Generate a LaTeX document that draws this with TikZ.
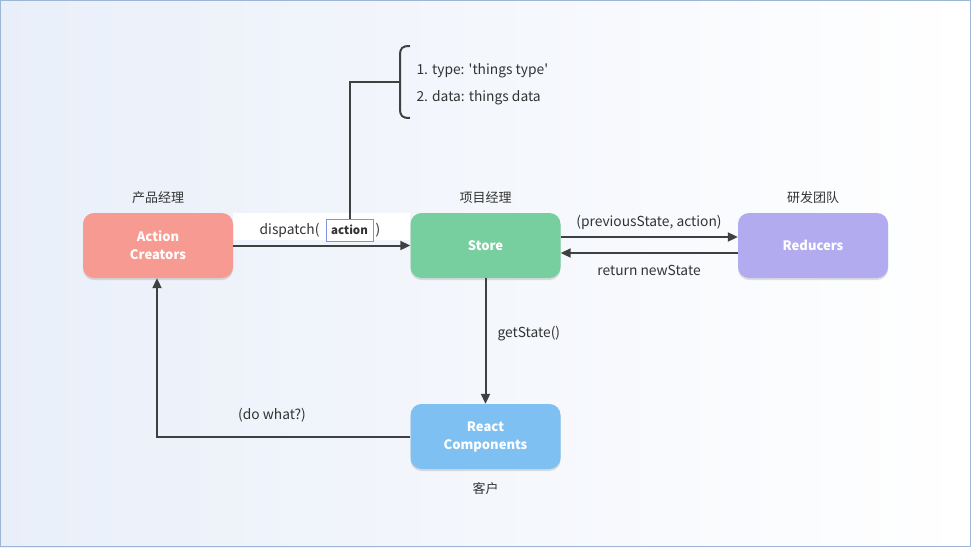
\documentclass[tikz,border=0pt]{standalone}
\usepackage{fontspec}
\setmainfont{Noto Sans CJK SC}
\newfontfamily\plainf{Noto Sans CJK SC}
\usetikzlibrary{arrows.meta,shadows}
\definecolor{linec}{HTML}{404040}
\definecolor{txtc}{HTML}{333333}
\definecolor{acol}{HTML}{F79A92}
\definecolor{scol}{HTML}{77CFA0}
\definecolor{rcol}{HTML}{B3ABF0}
\definecolor{ccol}{HTML}{7FC0F3}
\definecolor{bgl}{HTML}{E9EFF9}
\definecolor{frame}{HTML}{9DB6D6}
\begin{document}
\begin{tikzpicture}[x=1pt,y=-1pt,
  box/.style={draw=none,rounded corners=11pt,minimum width=150pt,minimum height=65pt,
    text=white,font=\fontsize{13}{18}\selectfont\bfseries,align=center,
    drop shadow={shadow xshift=0pt,shadow yshift=-2pt,opacity=0.25,fill=gray}},
  role/.style={text=txtc,font=\fontsize{13}{14}\selectfont},
  lbl/.style={text=txtc,font=\fontsize{13.8}{15}\selectfont},
  conn/.style={draw=linec,line width=2pt,-{Triangle[length=10pt,width=9pt]}},
  plain/.style={draw=linec,line width=2pt}]
\useasboundingbox (0,0) rectangle (971,547);
\shade[left color=bgl,right color=white] (0,0) rectangle (971,547);
\draw[frame,line width=1pt] (0.5,0.5) rectangle (970.5,546.5);
% white strip behind dispatch label
\fill[white] (233,213) rectangle (410,240);
% boxes
\node[box,fill=acol] (ac) at (158,245.5) {Action\\Creators};
\node[box,fill=scol] (st) at (485.5,245.5) {Store};
\node[box,fill=rcol] (rd) at (813,245.5) {Reducers};
\node[box,fill=ccol] (rc) at (485.5,436.5) {React\\Components};
% role labels
\node[role] (r1) at (158,198) {产品经理};
\node[role] (r2) at (485.5,198) {项目经理};
\node[role] (r3) at (813,198) {研发团队};
\node[role] (r4) at (485.5,489) {客户};
% dispatch
\draw[conn] (ac.east) -- (st.west);
\node[lbl,anchor=east] (dl) at (323,230) {dispatch(};
\node[draw=frame!80!blue,line width=1pt,fill=white,minimum width=47pt,minimum height=22pt,inner sep=0pt,
  font=\fontsize{11.5}{13}\selectfont\bfseries,text=txtc] (act) at (349.5,230) {action};
\node[lbl] (dr) at (378,230) {)};
% brace
\coordinate (bt) at (400,82);
\draw[plain] (act.north) |- (bt);
\draw[linec,line width=2pt] (410,46) .. controls (402,46) and (400,48) .. (400,56) -- (400,108) .. controls (400,116) and (402,118) .. (410,118);
\node[lbl,anchor=west] (t1) at (413,71) {\plainf 1. type: 'things type'};
\node[lbl,anchor=west] (t2) at (413,98) {2. data: things data};
% store <-> reducers
\draw[conn] ([yshift=8.5pt]st.east) -- ([yshift=8.5pt]rd.west);
\draw[conn] ([yshift=-7.5pt]rd.west) -- ([yshift=-7.5pt]st.east);
\node[lbl] (ps) at (649,222) {(previousState, action)};
\node[lbl] (rn) at (649,270) {return newState};
% store -> react
\draw[conn] (st.south) -- (rc.north);
\node[lbl,anchor=west] (gs) at (494,334) {getState()};
% react -> action creators
\coordinate (corner) at (157,436.5);
\draw[conn] (rc.west) -- (corner) -- (ac.south -| corner);
\node[lbl] (dw) at (272,415) {(do what?)};
\end{tikzpicture}
\end{document}
